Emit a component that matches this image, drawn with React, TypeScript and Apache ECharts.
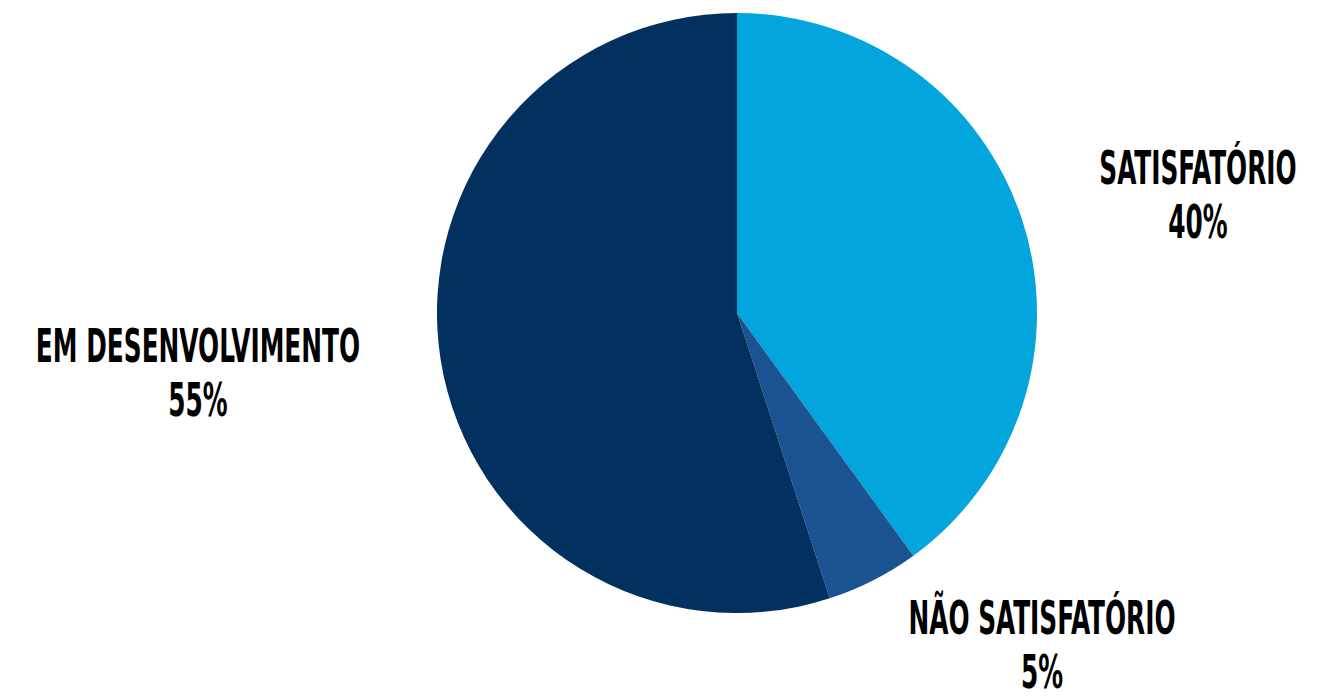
import React, { useEffect, useRef } from "react";
import * as echarts from "echarts";

const categories = ["SATISFATÓRIO", "NÃO SATISFATÓRIO", "EM DESENVOLVIMENTO"];
const values = [40, 5, 55];
const colors = ["#02A5DC", "#1B5292", "#02305F"];
const labelPositions = [
  [1198, 195],
  [1042, 645],
  [198, 373],
];

export default function App() {
  const ref = useRef<HTMLDivElement>(null);
  useEffect(() => {
    document.body.style.margin = "0";
    const chart = echarts.init(ref.current!, null, { renderer: "svg" });
    const total = values.reduce((a, b) => a + b, 0);
    chart.setOption({
      animation: false,
      backgroundColor: "#ffffff",
      series: [
        {
          type: "pie",
          center: [737, 313],
          radius: 300,
          startAngle: 90,
          clockwise: true,
          label: { show: false },
          labelLine: { show: false },
          itemStyle: { borderWidth: 0 },
          data: categories.map((c, i) => ({
            name: c,
            value: values[i],
            itemStyle: { color: colors[i] },
          })),
        },
      ],
      graphic: categories.map((c, i) => ({
        type: "text",
        x: labelPositions[i][0],
        y: labelPositions[i][1],
        scaleX: 0.6,
        style: {
          text: `${c}\n${Math.round((values[i] / total) * 100)}%`,
          font: 'bold 46px "DejaVu Sans Condensed", "DejaVu Sans", sans-serif',
          fill: "#000000",
          align: "center",
          verticalAlign: "middle",
          lineHeight: 54,
        },
      })),
    });
    return () => chart.dispose();
  }, []);
  return <div ref={ref} style={{ width: 1341, height: 698 }} />;
}
